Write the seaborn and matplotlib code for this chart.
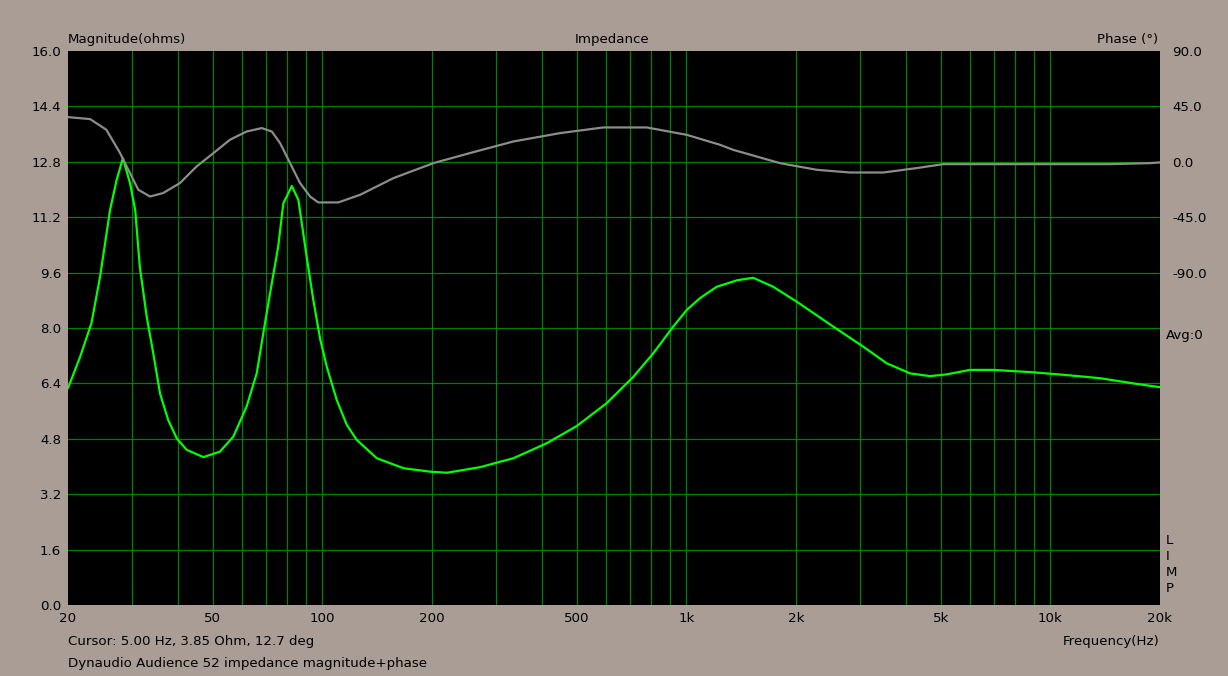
import numpy as np
import matplotlib
matplotlib.use("Agg")
import matplotlib.pyplot as plt
import seaborn as sns

# impedance magnitude (ohms)
mag_freq = [20, 21.6, 23.2, 24.5, 26.1, 27.2, 28.3, 29.6, 30.6, 31.5, 32.9, 34.3, 35.8,
            37.7, 39.8, 42.4, 47.1, 52.3, 56.9, 61.9, 66.0, 68.8, 71.8, 75.6, 78.1, 82.4,
            85.9, 90.5, 94.4, 98.5, 102.8, 109.5, 116.7, 124.2, 141, 167, 198, 220, 271,
            335, 413, 500, 604, 715, 811, 920, 1002, 1089, 1211, 1380, 1526, 1732, 2009,
            2532, 3061, 3550, 4115, 4668, 5188, 6012, 6967, 8976, 11083, 13683, 16888, 20000]
mag_ohm = [6.26, 7.17, 8.14, 9.48, 11.41, 12.27, 12.9, 12.19, 11.4, 9.77, 8.33, 7.27, 6.11,
           5.34, 4.81, 4.48, 4.27, 4.43, 4.86, 5.73, 6.69, 7.85, 9.0, 10.35, 11.6, 12.1,
           11.7, 10.06, 8.81, 7.70, 6.88, 5.92, 5.2, 4.77, 4.24, 3.95, 3.85, 3.82, 3.98,
           4.24, 4.67, 5.17, 5.83, 6.59, 7.27, 8.04, 8.52, 8.86, 9.19, 9.38, 9.45, 9.19, 8.76,
           8.04, 7.46, 6.98, 6.69, 6.61, 6.66, 6.79, 6.79, 6.72, 6.64, 6.55, 6.40, 6.29]

# impedance phase (deg)
ph_freq = [20, 23.0, 25.5, 27.8, 29.6, 31.2, 33.6, 36.5, 40.6, 45.1, 50.2, 55.7, 61.9, 68.1,
           72.6, 76.5, 81.5, 86.8, 92.5, 97.4, 110.6, 126.9, 156.6, 201.7, 254.3, 334.5,
           449.5, 591, 778, 1002, 1237, 1345, 1808, 2281, 2814, 3475, 4292, 5080, 14575,
           18770, 20000]
ph_deg = [36.3, 34.7, 26.0, 7.1, -9.2, -22.7, -28.2, -25.4, -17.3, -3.8, 7.1, 17.9, 24.6, 27.4,
          24.6, 15.2, -1.1, -17.3, -28.2, -33.0, -33.0, -26.8, -13.3, -1.1, 7.1, 16.5,
          23.3, 27.9, 27.9, 21.9, 13.8, 9.7, -1.1, -6.5, -8.7, -8.7, -5.1, -1.9, -1.9,
          -1.1, -0.5]

grid_freqs = [20, 30, 40, 50, 60, 70, 80, 90, 100, 200, 300, 400, 500, 600, 700, 800, 900,
              1000, 2000, 3000, 4000, 5000, 6000, 7000, 8000, 9000, 10000, 20000]
freq_labels = {20: "20", 50: "50", 100: "100", 200: "200", 500: "500", 1000: "1k",
               2000: "2k", 5000: "5k", 10000: "10k", 20000: "20k"}
mag_ticks = [0.0, 1.6, 3.2, 4.8, 6.4, 8.0, 9.6, 11.2, 12.8, 14.4, 16.0]
phase_ticks = [90, 45, 0, -45, -90]

BG = "#a99d96"
GRID = "#008000"
W, H = 1228, 676
FS = 9.6

sns.set_theme(style="dark")
plt.rcParams["font.family"] = ["DejaVu Sans"]
plt.rcParams["text.color"] = "black"
plt.rcParams["xtick.color"] = "black"
plt.rcParams["ytick.color"] = "black"

fig = plt.figure(figsize=(W / 100, H / 100), dpi=100, facecolor=BG)
ax = fig.add_axes([68 / W, 71 / H, 1092 / W, 554 / H])
ax.set_facecolor("black")
ax2 = ax.twinx()
ax2.patch.set_visible(False)

sns.lineplot(x=mag_freq, y=mag_ohm, ax=ax, color="#00ff00", lw=1.6)
sns.lineplot(x=ph_freq, y=ph_deg, ax=ax2, color="#8c8c8c", lw=1.6)

ax.set_xscale("log")
ax.set_xlim(20, 20000)
ax.set_ylim(0, 16)
ax2.set_ylim(-360, 90)

ax.set_xticks(grid_freqs)
ax.set_xticklabels([freq_labels.get(f, "") for f in grid_freqs])
ax.xaxis.set_minor_locator(matplotlib.ticker.NullLocator())
ax.set_yticks(mag_ticks)
ax.set_yticklabels([f"{v:.1f}" for v in mag_ticks])
ax.grid(True, color=GRID, lw=0.9, snap=True)
ax.tick_params(length=0, labelcolor="black", labelsize=FS, pad=5)
ax.tick_params(which="minor", length=0)

ax2.set_yticks(phase_ticks)
ax2.set_yticklabels([f"{v:.1f}" for v in phase_ticks])
ax2.tick_params(length=0, pad=9, labelcolor="black", labelsize=FS)
ax2.grid(False, which="both")
for a in (ax, ax2):
    a.set_xlabel("")
    a.set_ylabel("")
    for s in a.spines.values():
        s.set_visible(False)

# no grid lines on the frame edges
xg = ax.get_xgridlines()
xg[0].set_visible(False)
xg[-1].set_visible(False)
yg = ax.get_ygridlines()
yg[0].set_visible(False)
yg[-1].set_visible(False)

def px(x, y):
    return x / W, 1 - y / H

fig.text(*px(68, 40), "Magnitude(ohms)", ha="left", va="center", fontsize=FS)
fig.text(*px(612, 40), "Impedance", ha="center", va="center", fontsize=FS)
fig.text(*px(1158, 40), "Phase (°)", ha="right", va="center", fontsize=FS)
fig.text(*px(1166, 336), "Avg:0", ha="left", va="center", fontsize=FS)
for i, ch in enumerate("LIMP"):
    fig.text(*px(1166, 541 + 16 * i), ch, ha="left", va="center", fontsize=FS)
fig.text(*px(68, 641), "Cursor: 5.00 Hz, 3.85 Ohm, 12.7 deg", ha="left", va="center", fontsize=FS)
fig.text(*px(68, 663), "Dynaudio Audience 52 impedance magnitude+phase", ha="left", va="center", fontsize=FS)
fig.text(*px(1160, 641), "Frequency(Hz)", ha="right", va="center", fontsize=FS)

fig.savefig("out.png", dpi=100, facecolor=BG)
